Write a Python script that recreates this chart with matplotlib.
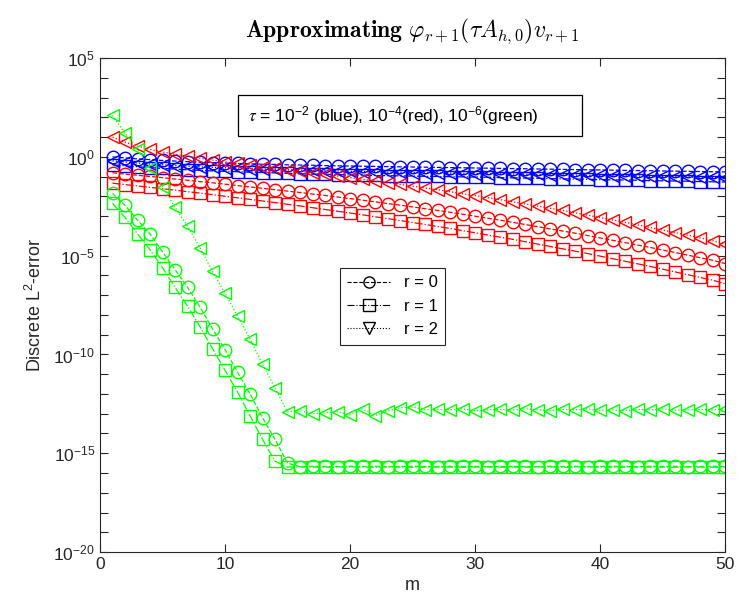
import numpy as np
import matplotlib.pyplot as plt
from matplotlib.lines import Line2D
from matplotlib.patches import Rectangle
from matplotlib.ticker import FixedLocator, FuncFormatter, NullLocator

plt.rcParams['font.family'] = ['Liberation Sans', 'DejaVu Sans']

m = np.arange(1, 51)

# log10 of the discrete L2 error, tau = 1e-2 (blue)
blue_r0 = [0.00, -0.05, -0.10, -0.14, -0.18, -0.21, -0.24, -0.27, -0.29, -0.31,
           -0.33, -0.35, -0.37, -0.38, -0.40, -0.41, -0.42, -0.44, -0.45, -0.46,
           -0.47, -0.48, -0.49, -0.50, -0.51, -0.52, -0.53, -0.54, -0.55, -0.56,
           -0.57, -0.58, -0.59, -0.60, -0.61, -0.62, -0.63, -0.64, -0.65, -0.66,
           -0.67, -0.68, -0.69, -0.70, -0.71, -0.72, -0.73, -0.74, -0.75, -0.76]
blue_r1 = [-0.40, -0.45, -0.50, -0.54, -0.58, -0.62, -0.65, -0.68, -0.71, -0.73,
           -0.75, -0.77, -0.79, -0.81, -0.83, -0.85, -0.87, -0.88, -0.90, -0.91,
           -0.92, -0.94, -0.95, -0.96, -0.97, -0.98, -0.99, -1.00, -1.01, -1.02,
           -1.03, -1.05, -1.06, -1.07, -1.08, -1.10, -1.11, -1.12, -1.13, -1.15,
           -1.16, -1.17, -1.18, -1.20, -1.21, -1.22, -1.23, -1.25, -1.26, -1.27]
blue_r2 = [-0.20, -0.26, -0.31, -0.36, -0.40, -0.44, -0.47, -0.50, -0.53, -0.55,
           -0.57, -0.59, -0.61, -0.63, -0.65, -0.67, -0.68, -0.70, -0.71, -0.73,
           -0.74, -0.75, -0.77, -0.78, -0.79, -0.80, -0.81, -0.82, -0.83, -0.84,
           -0.85, -0.86, -0.87, -0.88, -0.89, -0.90, -0.91, -0.92, -0.93, -0.94,
           -0.95, -0.96, -0.97, -0.98, -0.99, -1.00, -1.01, -1.02, -1.03, -1.05]

# tau = 1e-4 (red)
red_r0 = [-0.80, -0.87, -0.93, -0.99, -1.05, -1.12, -1.18, -1.25, -1.31, -1.38,
          -1.45, -1.52, -1.59, -1.66, -1.73, -1.80, -1.88, -1.95, -2.03, -2.11,
          -2.19, -2.27, -2.36, -2.44, -2.53, -2.62, -2.71, -2.80, -2.90, -3.00,
          -3.10, -3.20, -3.31, -3.42, -3.53, -3.64, -3.75, -3.86, -3.98, -4.10,
          -4.22, -4.34, -4.46, -4.58, -4.71, -4.84, -4.97, -5.10, -5.23, -5.40]
red_r1 = [-1.33, -1.40, -1.47, -1.54, -1.61, -1.68, -1.76, -1.83, -1.91, -1.99,
          -2.07, -2.15, -2.23, -2.31, -2.40, -2.48, -2.57, -2.66, -2.75, -2.84,
          -2.93, -3.03, -3.12, -3.22, -3.32, -3.42, -3.52, -3.62, -3.73, -3.84,
          -3.95, -4.06, -4.17, -4.29, -4.41, -4.53, -4.65, -4.77, -4.89, -5.02,
          -5.15, -5.28, -5.41, -5.54, -5.68, -5.82, -5.96, -6.10, -6.24, -6.42]
red_r2 = [1.00, 0.75, 0.55, 0.38, 0.25, 0.13, 0.03, -0.07, -0.16, -0.25,
          -0.33, -0.41, -0.49, -0.57, -0.65, -0.73, -0.81, -0.89, -0.97, -1.05,
          -1.13, -1.22, -1.30, -1.39, -1.48, -1.57, -1.66, -1.76, -1.86, -1.96,
          -2.06, -2.16, -2.27, -2.38, -2.49, -2.60, -2.71, -2.83, -2.95, -3.07,
          -3.19, -3.31, -3.44, -3.57, -3.70, -3.83, -3.96, -4.10, -4.24, -4.40]

# tau = 1e-6 (green)
green_r0 = [-1.85, -2.45, -3.20, -3.90, -4.80, -5.70, -6.60, -7.60, -8.70, -9.75,
            -10.90, -12.00, -13.20, -14.30, -15.50, -15.68, -15.66, -15.67, -15.68, -15.66,
            -15.67, -15.66, -15.68, -15.67, -15.66, -15.67, -15.68, -15.66, -15.67, -15.66,
            -15.68, -15.67, -15.66, -15.67, -15.68, -15.66, -15.67, -15.66, -15.68, -15.67,
            -15.66, -15.67, -15.68, -15.66, -15.67, -15.66, -15.68, -15.67, -15.66, -15.67]
green_r1 = [-2.35, -3.06, -3.90, -4.70, -5.60, -6.60, -7.55, -8.60, -9.70, -10.80,
            -11.90, -13.10, -14.30, -15.40, -15.70, -15.69, -15.70, -15.71, -15.69, -15.70,
            -15.70, -15.71, -15.69, -15.70, -15.71, -15.70, -15.69, -15.70, -15.71, -15.70,
            -15.69, -15.70, -15.70, -15.71, -15.69, -15.70, -15.71, -15.70, -15.69, -15.70,
            -15.71, -15.70, -15.69, -15.70, -15.70, -15.71, -15.69, -15.70, -15.71, -15.70]
green_r2 = [2.10, 1.20, 0.40, -0.56, -1.50, -2.55, -3.50, -4.60, -5.80, -6.90,
            -8.06, -9.20, -10.50, -11.70, -12.90, -12.85, -13.00, -12.95, -12.90, -13.05,
            -12.75, -13.10, -12.85, -12.70, -12.65, -12.80, -12.78, -12.80, -12.75, -12.85,
            -12.80, -12.78, -12.82, -12.75, -12.80, -12.85, -12.78, -12.80, -12.76, -12.82,
            -12.80, -12.85, -12.78, -12.80, -12.75, -12.82, -12.80, -12.78, -12.80, -12.76]

colors = {'blue': (0, 0, 1), 'red': (1, 0, 0), 'green': (0, 1, 0)}
series = [('blue', blue_r0, blue_r1, blue_r2),
          ('red', red_r0, red_r1, red_r2),
          ('green', green_r0, green_r1, green_r2)]
styles = [('--', 'o'), ('-.', 's'), (':', '<')]

fig = plt.figure(figsize=(7.38, 6.12), dpi=100)
ax = fig.add_axes([0.1355, 0.098, 0.847, 0.807])

for name, *curves in series:
    for (ls, mk), vals in zip(styles, curves):
        ax.semilogy(m, 10.0 ** np.array(vals), linestyle=ls, marker=mk,
                    color=colors[name], markerfacecolor='none', markersize=9,
                    linewidth=0.9, markeredgewidth=1.0)

ax.set_xlim(0, 50)
ax.set_ylim(1e-20, 1e5)
ax.xaxis.set_major_locator(FixedLocator([0, 10, 20, 30, 40, 50]))
ax.xaxis.set_minor_locator(NullLocator())
ax.yaxis.set_major_locator(FixedLocator([10.0 ** k for k in range(-20, 6, 5)]))
ax.yaxis.set_minor_locator(FixedLocator([10.0 ** k for k in range(-20, 6)]))
ax.yaxis.set_major_formatter(FuncFormatter(
    lambda v, p: r'$\mathregular{10^{%d}}$' % round(np.log10(v))))
ax.yaxis.set_minor_formatter(FuncFormatter(lambda v, p: ''))

ax.tick_params(which='both', direction='in', top=True, right=True, length=6,
               labelsize=12.5, color='#262626', labelcolor='#262626', width=0.8)
for sp in ax.spines.values():
    sp.set_color('#262626')
    sp.set_linewidth(0.8)

ax.set_xlabel('m', fontsize=13, color='#262626')
ax.set_ylabel(r'Discrete L$\mathregular{^{2}}$-error', fontsize=13, color='#262626',
              labelpad=6)
ax.set_title(r'$\mathbf{Approximating}\ \varphi_{r+1}(\tau A_{h,0})v_{r+1}$',
             fontsize=17, pad=15, math_fontfamily='cm')

# tau annotation box
ax.add_patch(Rectangle((0.221, 0.843), 0.55, 0.082, transform=ax.transAxes,
                       facecolor='white', edgecolor='black', linewidth=0.9, zorder=5))
ax.text(0.236, 0.884,
        r'$\tau$ = $\mathregular{10^{-2}}$ (blue), $\mathregular{10^{-4}}$(red), '
        r'$\mathregular{10^{-6}}$(green)',
        transform=ax.transAxes, fontsize=12.5, va='center', ha='left',
        math_fontfamily='stix', zorder=6)

handles = [Line2D([], [], color='black', linestyle=ls, marker=mk, markerfacecolor='none',
                  markersize=8, linewidth=0.8)
           for ls, mk in [('--', 'o'), ('-.', 's'), (':', 'v')]]
leg = ax.legend(handles, ['r = 0', 'r = 1', 'r = 2'], loc='upper left',
                bbox_to_anchor=(0.37, 0.592), fontsize=12, handlelength=2.6,
                fancybox=False, framealpha=1, edgecolor='#262626', borderpad=0.45,
                labelspacing=0.5)
leg.get_frame().set_linewidth(0.8)

fig.savefig('out.png', dpi=100)
